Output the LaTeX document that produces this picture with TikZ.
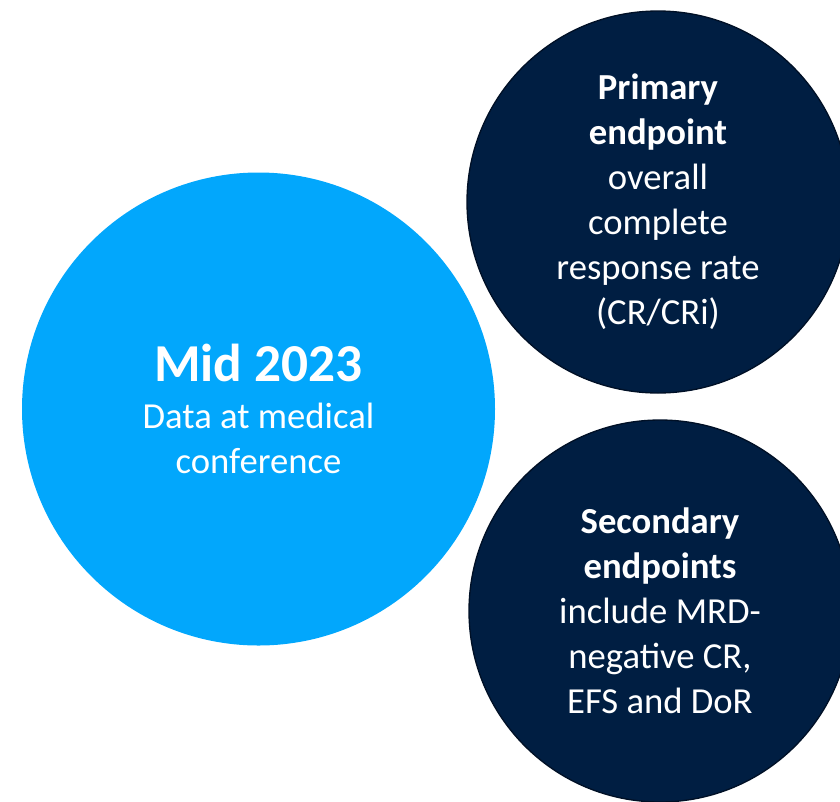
\documentclass[tikz,border=0pt]{standalone}
\usepackage{fontspec}
\setmainfont{Carlito}
\usepackage{xcolor}
\definecolor{skyblue}{RGB}{2,167,252}
\definecolor{navyblue}{RGB}{0,30,66}
\definecolor{navyedge}{RGB}{0,16,38}

\begin{document}
\begin{tikzpicture}[x=0.75pt, y=-0.75pt, every node/.style={circle, inner sep=0pt, text=white, align=center, font=\fontsize{27.5}{33.75}\selectfont},%
        bigdot/.style={fill=skyblue, minimum size=354.75pt}, navydot/.style={fill=navyblue, draw=navyedge, line width=1pt, minimum size=286.5pt}]
        \useasboundingbox (0,0) rectangle (840,801);
        \clip (0,0) rectangle (840,801);
        \node[bigdot] (mid) at (258.5,409) {{\fontsize{40}{36}\selectfont\bfseries Mid 2023}\\[2pt]
                Data at medical\\conference};
        \node[navydot] (primary) at (658,202) {\textbf{Primary}\\\textbf{endpoint}\\overall\\complete\\response rate\\(CR/CRi)};
        \node[navydot] (secondary) at (660,611) {\textbf{Secondary}\\\textbf{endpoints}\\include MRD-\\negative CR,\\EFS and DoR};
    \end{tikzpicture}
\end{document}
